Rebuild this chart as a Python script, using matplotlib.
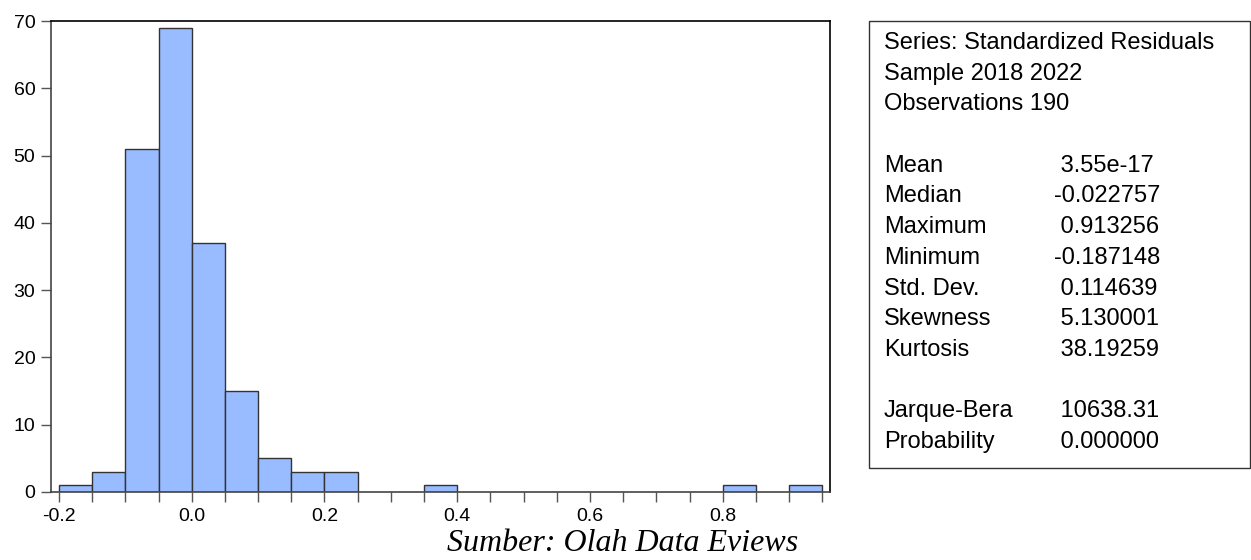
import matplotlib.pyplot as plt
import numpy as np
from matplotlib.patches import Rectangle
from matplotlib.ticker import MultipleLocator

plt.rcParams['font.family'] = ['Liberation Sans', 'DejaVu Sans']

# histogram of residuals, bin width 0.05 (only non-empty bins)
bin_left = [-0.20, -0.15, -0.10, -0.05, 0.00, 0.05, 0.10, 0.15, 0.20, 0.35, 0.80, 0.90]
counts = [1, 3, 51, 69, 37, 15, 5, 3, 3, 1, 1, 1]
bin_width = 0.05

stat_names = ["Mean", "Median", "Maximum", "Minimum", "Std. Dev.", "Skewness", "Kurtosis"]
stat_values = ["3.55e-17", "-0.022757", "0.913256", "-0.187148", "0.114639", "5.130001", "38.19259"]
test_names = ["Jarque-Bera", "Probability"]
test_values = ["10638.31", "0.000000"]
header = ["Series: Standardized Residuals", "Sample 2018 2022", "Observations 190"]

W, H = 1251, 560
fig = plt.figure(figsize=(W / 100, H / 100), dpi=100)

# axes placed in pixel coords
ax = fig.add_axes([51 / W, (H - 492) / H, (830 - 51) / W, (492 - 21) / H])
ax.bar(bin_left, counts, width=bin_width, align='edge',
       color='#99BBFF', edgecolor='#333333', linewidth=1.0, zorder=2)

ax.set_xlim(-0.212, 0.9616)
ax.set_ylim(0, 70)
ax.xaxis.set_minor_locator(MultipleLocator(0.05))
ax.yaxis.set_major_locator(MultipleLocator(10))
ax.set_xticks([-0.2, 0.0, 0.2, 0.4, 0.6, 0.8])
ax.set_xticklabels(["-0.2", "0.0", "0.2", "0.4", "0.6", "0.8"])
ax.tick_params(axis='both', which='both', direction='out', length=7.2,
               width=1.0, color='#555555', labelsize=14, pad=4)

for side in ['top', 'right']:
    ax.spines[side].set_color('black')
for side in ['left', 'bottom']:
    ax.spines[side].set_color('#444444')
for sp in ax.spines.values():
    sp.set_linewidth(1.2)

# statistics box
box = Rectangle((869 / W, (H - 468) / H), (1250 - 869) / W, (468 - 21) / H,
                transform=fig.transFigure, fill=False, edgecolor='#333333', linewidth=1.0)
fig.patches.append(box)

lines = [(h, None) for h in header] + [("", None)]
lines += list(zip(stat_names, stat_values)) + [("", None)]
lines += list(zip(test_names, test_values))

x_label = 884 / W
x_value = 1054 / W
y0, dy = 43, 30.7
for i, (name, val) in enumerate(lines):
    y = (H - (y0 + i * dy)) / H
    if name:
        fig.text(x_label, y, name, fontsize=17, va='center', ha='left')
    if val is not None:
        txt = val if val.startswith('-') else ' ' + val
        fig.text(x_value, y, txt, fontsize=17, va='center', ha='left')

fig.text(623 / W, 9 / H, "Sumber: Olah Data Eviews", fontsize=23,
         family=['Liberation Serif', 'DejaVu Serif'], style='italic',
         ha='center', va='baseline')

fig.savefig("out.png", dpi=100)
